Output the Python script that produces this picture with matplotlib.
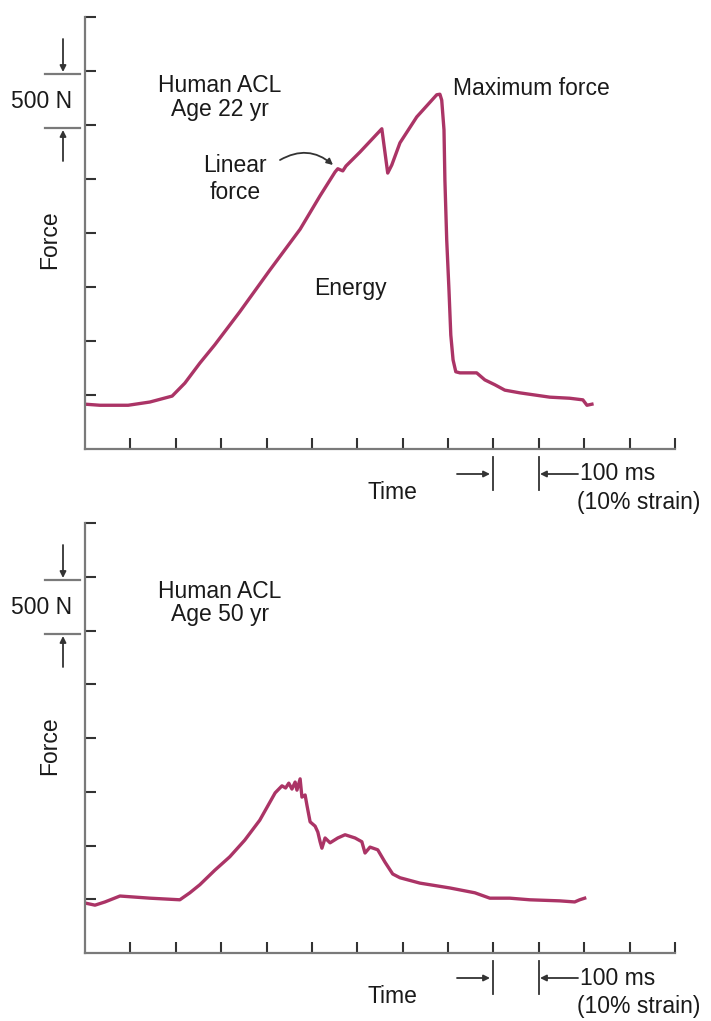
import matplotlib
matplotlib.use("Agg")
import matplotlib.pyplot as plt
import matplotlib.transforms as mtransforms

plt.rcParams['font.family'] = ['Liberation Sans', 'DejaVu Sans']

# ---------------- data (time in tick intervals, force in tick intervals) ----------
t_22 = [0.0, 0.33, 0.95, 1.43, 1.92, 2.20, 2.53, 2.86, 3.41, 4.07, 4.74, 5.18, 5.51, 5.57,
        5.68, 5.75, 6.06, 6.54, 6.67, 6.76, 6.94, 7.31, 7.75, 7.82, 7.86, 7.91, 7.93, 7.97,
        8.02, 8.06, 8.11, 8.17, 8.26, 8.63, 8.81, 9.03, 9.25, 9.58, 10.24, 10.68, 10.97,
        11.06, 11.17]
f_22 = [0.83, 0.81, 0.81, 0.87, 0.98, 1.22, 1.59, 1.93, 2.54, 3.31, 4.07, 4.69, 5.13, 5.19,
        5.15, 5.24, 5.50, 5.93, 5.11, 5.26, 5.67, 6.15, 6.56, 6.57, 6.46, 5.91, 4.98, 3.87,
        2.94, 2.11, 1.65, 1.43, 1.41, 1.41, 1.28, 1.19, 1.09, 1.04, 0.96, 0.94, 0.91,
        0.81, 0.83]

t_50 = [0.0, 0.22, 0.44, 0.77, 1.43, 2.09, 2.31, 2.53, 2.86, 3.19, 3.52, 3.85, 4.19, 4.34,
        4.42, 4.49, 4.56, 4.63, 4.67, 4.74, 4.78, 4.85, 4.89, 4.96, 5.07, 5.13, 5.18, 5.22,
        5.29, 5.40, 5.57, 5.73, 5.95, 6.10, 6.17, 6.28, 6.45, 6.61, 6.78, 6.94, 7.38, 8.04,
        8.59, 8.92, 9.36, 9.80, 10.46, 10.79, 10.90, 11.01]
f_50 = [0.93, 0.89, 0.95, 1.06, 1.02, 0.99, 1.12, 1.27, 1.54, 1.79, 2.10, 2.47, 2.98, 3.11,
        3.07, 3.16, 3.05, 3.18, 3.03, 3.24, 2.90, 2.94, 2.75, 2.44, 2.36, 2.25, 2.07, 1.95,
        2.14, 2.05, 2.14, 2.20, 2.14, 2.07, 1.86, 1.97, 1.92, 1.69, 1.47, 1.40, 1.30, 1.21,
        1.12, 1.02, 1.02, 0.99, 0.97, 0.95, 0.99, 1.02]

panels = [
    dict(t=t_22, f=f_22, title=["Human ACL", "Age 22 yr"]),
    dict(t=t_50, f=f_50, title=["Human ACL", "Age 50 yr"]),
]

y_ticks = [1, 2, 3, 4, 5, 6, 7, 8]
x_ticks = list(range(1, 14))

# ---------------- figure ----------------
W, H = 711, 1021
fig = plt.figure(figsize=(W / 100, H / 100), dpi=100)

def P(x, y):
    return (x / W, 1 - y / H)

LINE = '#ab3466'
AXC = '#7a7a7a'
TXT = '#1a1a1a'
FS = 16.5

axes_px = [(17, 449), (523, 953)]  # top, bottom in pixels

arrow_kw = dict(arrowstyle='-|>', color='#333333', lw=1.3, mutation_scale=9,
                shrinkA=0, shrinkB=0)

for i, (panel, (ytop, ybot)) in enumerate(zip(panels, axes_px)):
    left, right = 85, 675
    ax = fig.add_axes([left / W, 1 - ybot / H, (right - left) / W, (ybot - ytop) / H])
    ax.set_xlim(0, 13)
    ax.set_ylim(0, 8)
    for s in ['top', 'right']:
        ax.spines[s].set_visible(False)
    for s in ['left', 'bottom']:
        ax.spines[s].set_color(AXC)
        ax.spines[s].set_linewidth(1.6)
    ax.set_xticks(x_ticks)
    ax.set_yticks(y_ticks)
    ax.set_xticklabels([])
    ax.set_yticklabels([])
    ax.tick_params(direction='in', length=8, width=1.5, colors='#333333')
    ax.patch.set_alpha(0)

    ax.plot(panel['t'], panel['f'], color=LINE, lw=2.4, solid_joinstyle='round')

    # y label
    fig.text(*P(50, ytop + 223), "Force", rotation=90, ha='center', va='center',
             fontsize=FS, color=TXT)

    # 500 N bracket
    y1, y2 = ytop + 57, ytop + 111
    for yy in (y1, y2):
        fig.add_artist(plt.Line2D([45 / W, 80 / W], [1 - yy / H, 1 - yy / H],
                                  color=AXC, lw=1.6))
    fig.text(*P(42, (y1 + y2) / 2), "500 N", ha='center', va='center', fontsize=FS, color=TXT)
    ax.annotate("", xy=P(63, y1 - 2), xytext=P(63, y1 - 35), xycoords='figure fraction',
                textcoords='figure fraction', arrowprops=arrow_kw)
    ax.annotate("", xy=P(63, y2 + 2), xytext=P(63, y2 + 33), xycoords='figure fraction',
                textcoords='figure fraction', arrowprops=arrow_kw)

    # titles
    fig.text(*P(220, ytop + 68), panel['title'][0], ha='center', va='center', fontsize=FS, color=TXT)
    fig.text(*P(220, ytop + 92), panel['title'][1], ha='center', va='center', fontsize=FS, color=TXT)

    # scale bar below axis
    trans = mtransforms.blended_transform_factory(ax.transData, fig.transFigure)
    yb1, yb2 = ybot + 8, ybot + 41
    for xx in (9, 10):
        ax.plot([xx, xx], [1 - yb1 / H, 1 - yb2 / H], color='#333333', lw=1.3,
                transform=trans, clip_on=False)
    ym = ybot + 25
    ax.annotate("", xy=P(490, ym), xytext=P(457, ym), xycoords='figure fraction',
                textcoords='figure fraction', arrowprops=arrow_kw)
    ax.annotate("", xy=P(540, ym), xytext=P(578, ym), xycoords='figure fraction',
                textcoords='figure fraction', arrowprops=arrow_kw)
    fig.text(*P(580, ym), "100 ms", ha='left', va='center', fontsize=FS, color=TXT)
    fig.text(*P(577, ym + 28), "(10% strain)", ha='left', va='center', fontsize=FS, color=TXT)
    fig.text(*P(392, ybot + 43), "Time", ha='center', va='center', fontsize=FS, color=TXT)

    if i == 0:
        fig.text(*P(453, 88), "Maximum force", ha='left', va='center', fontsize=FS, color=TXT)
        fig.text(*P(235, 165), "Linear", ha='center', va='center', fontsize=FS, color=TXT)
        fig.text(*P(235, 192), "force", ha='center', va='center', fontsize=FS, color=TXT)
        fig.text(*P(350, 289), "Energy", ha='center', va='center', fontsize=FS, color=TXT)
        ax.annotate("", xy=P(333, 165), xytext=P(280, 160), xycoords='figure fraction',
                    textcoords='figure fraction',
                    arrowprops=dict(arrow_kw, connectionstyle='arc3,rad=-0.35'))

fig.savefig("out.png", dpi=100)
